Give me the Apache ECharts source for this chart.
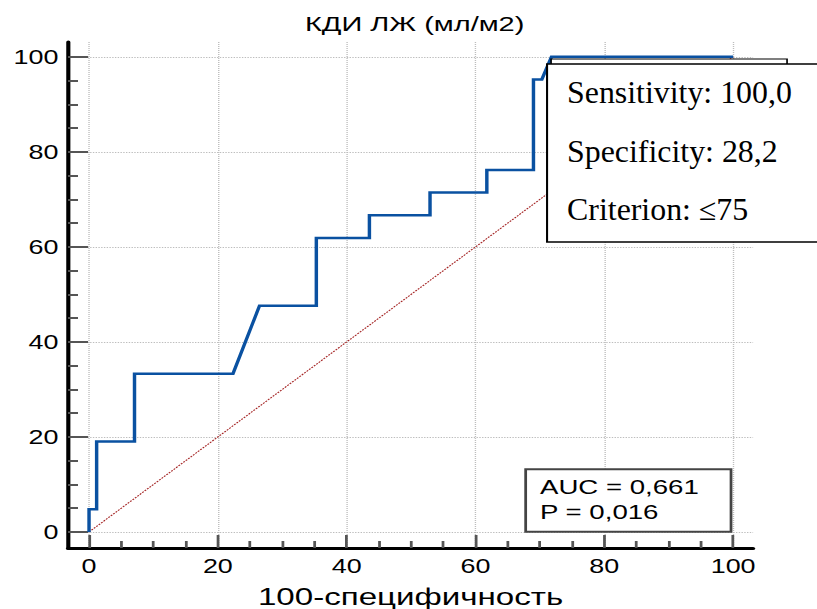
<!DOCTYPE html>
<html>
<head>
<meta charset="utf-8">
<script src="https://cdn.jsdelivr.net/npm/echarts@6/dist/echarts.min.js"></script>
<style>
  html, body { margin: 0; padding: 0; background: #fff; overflow: hidden; }
  #chart { width: 592px; height: 609px; transform: scaleX(1.380068); transform-origin: 0 0; }
</style>
</head>
<body>
<div id="chart"></div>
<script>
// ---- data ----
const titleText = 'КДИ ЛЖ (мл/м2)';
const xAxisName = '100-специфичность';
const xTicks = [0, 20, 40, 60, 80, 100];
const yTicks = [0, 20, 40, 60, 80, 100];
const xMinorTicks = [5, 10, 15, 25, 30, 35, 45, 50, 55, 65, 70, 75, 85, 90, 95];
const yMinorTicks = [5, 10, 15, 25, 30, 35, 45, 50, 55, 65, 70, 75, 85, 90, 95];
// ROC curve corner points (100-specificity, sensitivity)
const rocX = [0, 0, 1.18, 1.18, 7.06, 7.06, 22.35, 26.47, 35.29, 35.29, 43.53, 43.53, 52.94, 52.94, 61.76, 61.76, 69.0, 69.0, 70.3, 71.8, 100];
const rocY = [0, 4.76, 4.76, 19.05, 19.05, 33.33, 33.33, 47.62, 47.62, 61.9, 61.9, 66.67, 66.67, 71.43, 71.43, 76.19, 76.19, 95.24, 95.24, 100, 100];
// reference diagonal
const diagX = [0, 100];
const diagY = [0, 100];
// annotation texts
const criterionLines = ['Sensitivity: 100,0', 'Specificity: 28,2', 'Criterion: \u226475'];
const aucLines = ['AUC = 0,661', 'P = 0,016'];

const rocData = rocX.map((x, i) => [x, rocY[i]]);
const diagData = diagX.map((x, i) => [x, diagY[i]]);

const sans = 'Arial, "Liberation Sans", sans-serif';
const axisMin = -3.26, axisMax = 103.1;
const yMin = -3.37, yMax = 103.13;

const chart = echarts.init(document.getElementById('chart'), null, { renderer: 'svg' });
chart.setOption({
  animation: false,
  backgroundColor: '#fff',
  title: {
    text: titleText, left: 221, top: 13, padding: 0,
    textStyle: { fontFamily: sans, fontSize: 21, fontWeight: 'normal', color: '#000' }
  },
  grid: { left: 49.3, right: 46.3, top: 42, bottom: 61, containLabel: false, outerBoundsMode: 'none' },
  xAxis: [{
    type: 'value', min: axisMin, max: axisMax, position: 'bottom',
    name: xAxisName, nameLocation: 'middle', nameGap: 37,
    nameTextStyle: { fontFamily: sans, fontSize: 24, color: '#000' },
    axisLine: { show: true, onZero: false, lineStyle: { color: '#000', width: 3 } },
    axisTick: { show: true, inside: true, length: 13, customValues: xTicks, lineStyle: { color: '#555', width: 2 } },
    axisLabel: { show: true, margin: 8, customValues: xTicks, fontFamily: sans, fontSize: 19.5, color: '#000' },
    splitLine: { show: true, lineStyle: { color: '#bdbdbd', width: 1, type: [1, 1] } }
  }, {
    type: 'value', min: axisMin, max: axisMax, position: 'bottom', gridIndex: 0,
    axisLine: { show: false, onZero: false },
    axisTick: { show: true, inside: true, length: 7, customValues: xMinorTicks, lineStyle: { color: '#555', width: 2 } },
    axisLabel: { show: false },
    splitLine: { show: false }
  }],
  yAxis: [{
    type: 'value', min: yMin, max: yMax, position: 'left',
    axisLine: { show: true, onZero: false, lineStyle: { color: '#000', width: 3 } },
    axisTick: { show: true, inside: true, length: 14.5, customValues: yTicks, lineStyle: { color: '#555', width: 2 } },
    axisLabel: { show: true, margin: 7, customValues: yTicks, fontFamily: sans, fontSize: 19.5, color: '#000' },
    splitLine: { show: true, lineStyle: { color: '#bdbdbd', width: 1, type: [1, 1] } }
  }, {
    type: 'value', min: yMin, max: yMax, position: 'left', gridIndex: 0,
    axisLine: { show: false, onZero: false },
    axisTick: { show: true, inside: true, length: 7.2, customValues: yMinorTicks, lineStyle: { color: '#555', width: 2 } },
    axisLabel: { show: false },
    splitLine: { show: false }
  }],
  series: [{
    type: 'line', data: diagData, xAxisIndex: 0, yAxisIndex: 0,
    showSymbol: false, symbol: 'none', silent: true,
    lineStyle: { color: '#a52525', width: 1, type: [1.5, 1] }
  }, {
    type: 'line', data: rocData, xAxisIndex: 0, yAxisIndex: 0,
    showSymbol: false, symbol: 'none', silent: true,
    lineStyle: { color: '#0a51a1', width: 2.5, join: 'miter', cap: 'butt' }
  }],
  graphic: [
    { type: 'rect', x: 399.3, y: 59, z: 100, shape: { x: 0, y: 0, width: 171, height: 30 },
      style: { fill: '#fff', stroke: '#000', lineWidth: 1.2 } },
    { type: 'rect', x: 396.4, y: 64, z: 101, shape: { x: 0, y: 0, width: 210, height: 178 },
      style: { fill: '#fff', stroke: '#000', lineWidth: 1.5 } },
    ...criterionLines.map((t, i) => ({
      type: 'text', x: 410.9, y: 93 + i * 58.5, z: 102, scaleX: 0.745,
      style: { text: t, font: '31px "Liberation Serif", "Times New Roman", serif', fill: '#000', verticalAlign: 'middle', align: 'left' }
    })),
    { type: 'rect', x: 380.9, y: 469.3, z: 100, shape: { x: 0, y: 0, width: 148.8, height: 62.4 },
      style: { fill: '#fff', stroke: '#444', lineWidth: 2 } },
    ...aucLines.map((t, i) => ({
      type: 'text', x: 391.3, y: 486.7 + i * 25, z: 101,
      style: { text: t, font: '20px Arial, "Liberation Sans", sans-serif', fill: '#000', verticalAlign: 'middle', align: 'left' }
    }))
  ]
});
</script>
</body>
</html>
